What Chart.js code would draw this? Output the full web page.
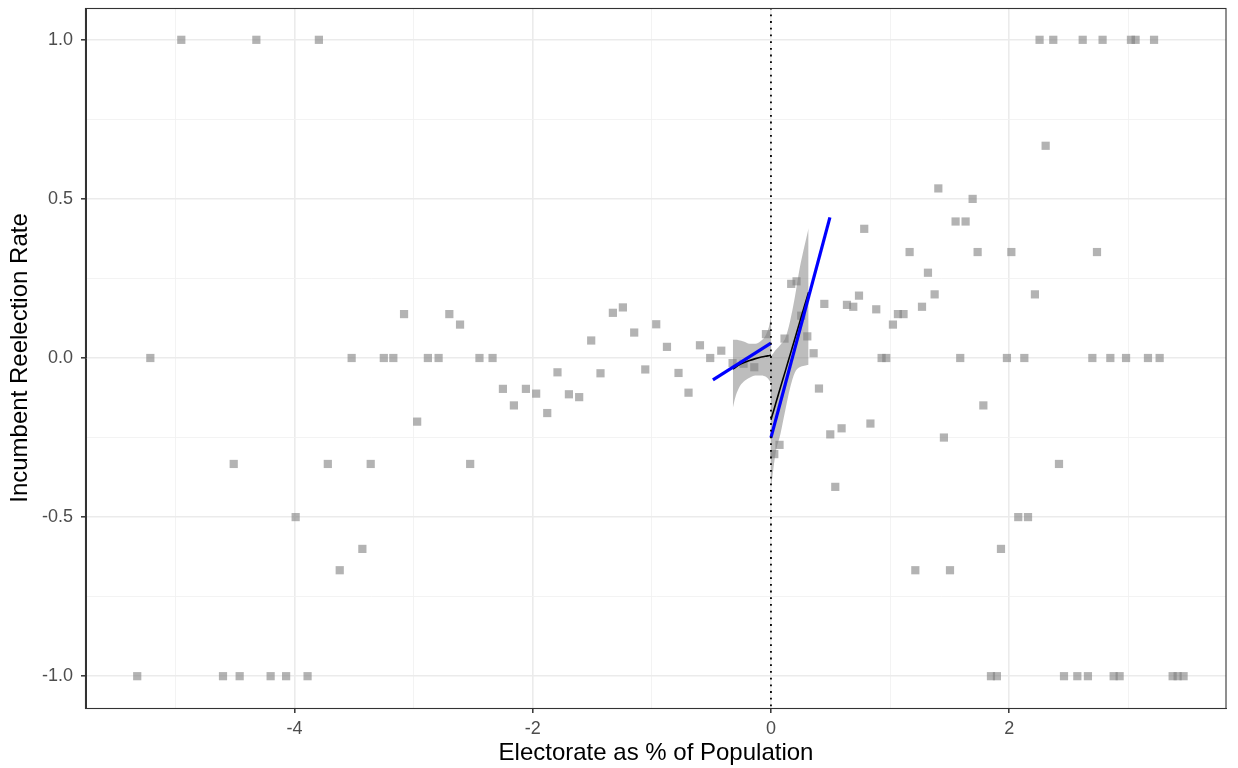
<!DOCTYPE html>
<html>
<head>
<meta charset="utf-8">
<script src="https://cdn.jsdelivr.net/npm/chart.js@4"></script>
<style>
  html, body { margin: 0; padding: 0; background: #ffffff; }
  #wrap { width: 1238px; height: 768px; position: relative; }
</style>
</head>
<body>
<div id="wrap"><canvas id="chart" width="1238" height="768"></canvas></div>
<script>
// Observations: electorate share (running variable) and reelection rate
const electorate = [
  -5.32, -5.21, -4.95, -4.60, -4.51, -4.46, -4.32, -4.20, -4.07, -3.99,
  -3.89, -3.795, -3.72, -3.62, -3.52, -3.43, -3.36, -3.25, -3.17, -3.08,
  -2.97, -2.88, -2.79, -2.70, -2.61, -2.525, -2.447, -2.337, -2.25, -2.158,
  -2.057, -1.971, -1.878, -1.792, -1.696, -1.61, -1.509, -1.431, -1.327, -1.243,
  -1.148, -1.055, -0.963, -0.873, -0.776, -0.692, -0.596, -0.51, -0.417, -0.322,
  -0.23, -0.14, -0.042,
  0.028, 0.072, 0.114, 0.170, 0.215, 0.254, 0.305, 0.358, 0.403, 0.448,
  0.498, 0.540, 0.593, 0.638, 0.691, 0.739, 0.783, 0.835, 0.884, 0.929,
  0.968, 1.024, 1.066, 1.113, 1.164, 1.212, 1.268, 1.318, 1.374, 1.405,
  1.452, 1.503, 1.55, 1.589, 1.634, 1.693, 1.735, 1.783, 1.847, 1.897,
  1.931, 1.981, 2.018, 2.076, 2.127, 2.158, 2.216, 2.255, 2.306, 2.370,
  2.418, 2.46, 2.572, 2.617, 2.661, 2.698, 2.737, 2.784, 2.849, 2.877,
  2.927, 2.981, 3.022, 3.061, 3.165, 3.216, 3.263, 3.372, 3.414, 3.464
];
const reelection = [
  -1, 0, 1, -1, -0.333, -1, 1, -1, -1, -0.5,
  -1, 1, -0.333, -0.667, 0, -0.6, -0.333, 0, 0, 0.138,
  -0.2, 0, 0, 0.138, 0.105, -0.333, 0, 0, -0.097, -0.149,
  -0.097, -0.112, -0.173, -0.045, -0.114, -0.123, 0.055, -0.048, 0.142, 0.159,
  0.080, -0.036, 0.106, 0.035, -0.047, -0.109, 0.040, 0, 0.023, -0.016,
  -0.018, -0.029, 0.075,
  -0.302, -0.273, 0.061, 0.233, 0.241, 0.133, 0.068, 0.015, -0.096, 0.170,
  -0.240, -0.405, -0.221, 0.167, 0.161, 0.196, 0.406, -0.206, 0.153, 0,
  0, 0.105, 0.138, 0.138, 0.333, -0.667, 0.161, 0.268, 0.2, 0.533,
  -0.25, -0.667, 0.429, 0, 0.429, 0.5, 0.333, -0.149, -1, -1,
  -0.6, 0, 0.333, -0.5, 0, -0.5, 0.2, 1, 0.667, 1,
  -0.333, -1, -1, 1, -1, 0, 0.333, 1, 0, -1,
  -1, 0, 1, 1, 0, 1, 0, -1, -1, -1
];

// Local smooth below the cutoff, with confidence band
const smoothLeftX  = [-0.32, -0.30, -0.27, -0.23, -0.18, -0.13, -0.08, -0.04, -0.01, 0];
const smoothLeftY  = [-0.035, -0.030, -0.022, -0.015, -0.008, -0.002, 0.003, 0.006, 0.008, 0.009];
const smoothLeftLo = [-0.158, -0.125, -0.095, -0.075, -0.062, -0.055, -0.055, -0.060, -0.072, -0.079];
const smoothLeftHi = [0.057, 0.057, 0.056, 0.052, 0.045, 0.045, 0.055, 0.075, 0.110, 0.136];

// Local smooth above the cutoff, with confidence band
const smoothRightX  = [0, 0.02, 0.04, 0.08, 0.12, 0.16, 0.20, 0.24, 0.28, 0.316];
const smoothRightY  = [-0.194, -0.169, -0.143, -0.092, -0.042, 0.009, 0.060, 0.111, 0.162, 0.207];
const smoothRightLo = [-0.41, -0.35, -0.297, -0.238, -0.165, -0.095, -0.046, -0.029, -0.024, -0.021];
const smoothRightHi = [0.005, 0.015, 0.025, 0.042, 0.062, 0.115, 0.19, 0.28, 0.35, 0.408];

// Linear fits on each side of the cutoff
const linLeftX  = [-0.487, 0];
const linLeftY  = [-0.069, 0.047];
const linRightX = [0, 0.495];
const linRightY = [-0.250, 0.442];

// Axis ticks
const xTicks = [-5, -4, -3, -2, -1, 0, 1, 2, 3];
const xLabelled = [-4, -2, 0, 2];
const yTicks = [-1, -0.75, -0.5, -0.25, 0, 0.25, 0.5, 0.75, 1];
const yLabelled = [-1, -0.5, 0, 0.5, 1];
const cutoff = 0;

const pts = (xs, ys) => xs.map((x, i) => ({ x: x, y: ys[i] }));
const FONT = '"Liberation Sans", Arial, Helvetica, sans-serif';

const isMajorX = v => xLabelled.some(t => Math.abs(t - v) < 1e-9);
const isMajorY = v => yLabelled.some(t => Math.abs(t - v) < 1e-9);

const lineDefaults = { showLine: true, pointRadius: 0, pointHoverRadius: 0, fill: false };

const panelFrame = {
  id: 'panelFrame',
  afterDatasetsDraw(chart) {
    const a = chart.chartArea, ctx = chart.ctx;
    ctx.save();
    ctx.strokeStyle = '#333333';
    ctx.lineWidth = 1.1;
    ctx.strokeRect(Math.round(a.left) - 0.5, Math.round(a.top) + 0.5,
                   Math.round(a.right - a.left) + 0.5, Math.round(a.bottom - a.top));
    ctx.restore();
  }
};

new Chart(document.getElementById('chart'), {
  type: 'scatter',
  data: {
    datasets: [
      Object.assign({}, lineDefaults, {
        label: 'cutoff',
        data: [{ x: cutoff, y: -1.2 }, { x: cutoff, y: 1.2 }],
        borderColor: '#000000', borderWidth: 1.8, borderDash: [1.8, 4.9]
      }),
      Object.assign({}, lineDefaults, {
        label: 'linear below',
        data: pts(linLeftX, linLeftY),
        borderColor: '#0000ff', borderWidth: 3.2
      }),
      Object.assign({}, lineDefaults, {
        label: 'linear above',
        data: pts(linRightX, linRightY),
        borderColor: '#0000ff', borderWidth: 3.2
      }),
      Object.assign({}, lineDefaults, {
        label: 'smooth below',
        data: pts(smoothLeftX, smoothLeftY),
        borderColor: '#000000', borderWidth: 1.6, cubicInterpolationMode: 'monotone'
      }),
      Object.assign({}, lineDefaults, {
        label: 'smooth above',
        data: pts(smoothRightX, smoothRightY),
        borderColor: '#000000', borderWidth: 1.6, cubicInterpolationMode: 'monotone'
      }),
      Object.assign({}, lineDefaults, {
        label: 'band below hi',
        data: pts(smoothLeftX, smoothLeftHi),
        borderWidth: 0, borderColor: 'rgba(0,0,0,0)', cubicInterpolationMode: 'monotone'
      }),
      Object.assign({}, lineDefaults, {
        label: 'band below lo',
        data: pts(smoothLeftX, smoothLeftLo),
        borderWidth: 0, borderColor: 'rgba(0,0,0,0)', cubicInterpolationMode: 'monotone',
        fill: '-1', backgroundColor: 'rgba(128,128,128,0.52)'
      }),
      Object.assign({}, lineDefaults, {
        label: 'band above hi',
        data: pts(smoothRightX, smoothRightHi),
        borderWidth: 0, borderColor: 'rgba(0,0,0,0)', cubicInterpolationMode: 'monotone'
      }),
      Object.assign({}, lineDefaults, {
        label: 'band above lo',
        data: pts(smoothRightX, smoothRightLo),
        borderWidth: 0, borderColor: 'rgba(0,0,0,0)', cubicInterpolationMode: 'monotone',
        fill: '-1', backgroundColor: 'rgba(128,128,128,0.52)'
      }),
      {
        label: 'districts',
        data: pts(electorate, reelection),
        pointStyle: 'rect',
        pointRadius: 5.8,
        pointHoverRadius: 5.8,
        pointBorderWidth: 0,
        pointBackgroundColor: 'rgba(128,128,128,0.6)',
        backgroundColor: 'rgba(128,128,128,0.6)',
        borderWidth: 0
      }
    ]
  },
  options: {
    responsive: false,
    animation: false,
    devicePixelRatio: 1,
    layout: { padding: { top: 8, right: 12, left: 0, bottom: 0 } },
    plugins: {
      legend: { display: false },
      tooltip: { enabled: false },
      filler: { propagate: false }
    },
    scales: {
      x: {
        type: 'linear',
        min: -5.75,
        max: 3.82,
        afterBuildTicks: s => { s.ticks = xTicks.map(v => ({ value: v })); },
        afterFit: s => { s.height = 60; s.paddingLeft = 0; s.paddingRight = 0; },
        ticks: {
          autoSkip: false,
          maxRotation: 0,
          padding: 5,
          color: '#4d4d4d',
          font: { family: FONT, size: 18 },
          callback: v => (isMajorX(v) ? String(v) : '')
        },
        grid: {
          drawTicks: true,
          tickLength: 5,
          color: c => (isMajorX(c.tick.value) ? '#ebebeb' : '#f2f2f2'),
          lineWidth: c => (isMajorX(c.tick.value) ? 1.6 : 0.9),
          tickColor: c => (isMajorX(c.tick.value) ? '#333333' : 'rgba(0,0,0,0)'),
          tickWidth: 1.5
        },
        border: { display: true, color: '#333333', width: 1 },
        title: {
          display: true,
          text: 'Electorate as % of Population',
          color: '#000000',
          font: { family: FONT, size: 24 },
          padding: { top: 0, bottom: 0 }
        }
      },
      y: {
        type: 'linear',
        min: -1.1,
        max: 1.1,
        afterBuildTicks: s => { s.ticks = yTicks.map(v => ({ value: v })); },
        afterFit: s => { s.width = 86; s.paddingTop = 0; s.paddingBottom = 0; },
        ticks: {
          autoSkip: false,
          padding: 8,
          color: '#4d4d4d',
          font: { family: FONT, size: 18 },
          callback: v => (isMajorY(v) ? v.toFixed(1) : '')
        },
        grid: {
          drawTicks: true,
          tickLength: 5,
          color: c => (isMajorY(c.tick.value) ? '#ebebeb' : '#f2f2f2'),
          lineWidth: c => (isMajorY(c.tick.value) ? 1.6 : 0.9),
          tickColor: c => (isMajorY(c.tick.value) ? '#333333' : 'rgba(0,0,0,0)'),
          tickWidth: 1.5
        },
        border: { display: true, color: '#333333', width: 1 },
        title: {
          display: true,
          text: 'Incumbent Reelection Rate',
          color: '#000000',
          font: { family: FONT, size: 24 },
          padding: { top: 6, bottom: 0 }
        }
      }
    }
  },
  plugins: [panelFrame]
});
</script>
</body>
</html>
